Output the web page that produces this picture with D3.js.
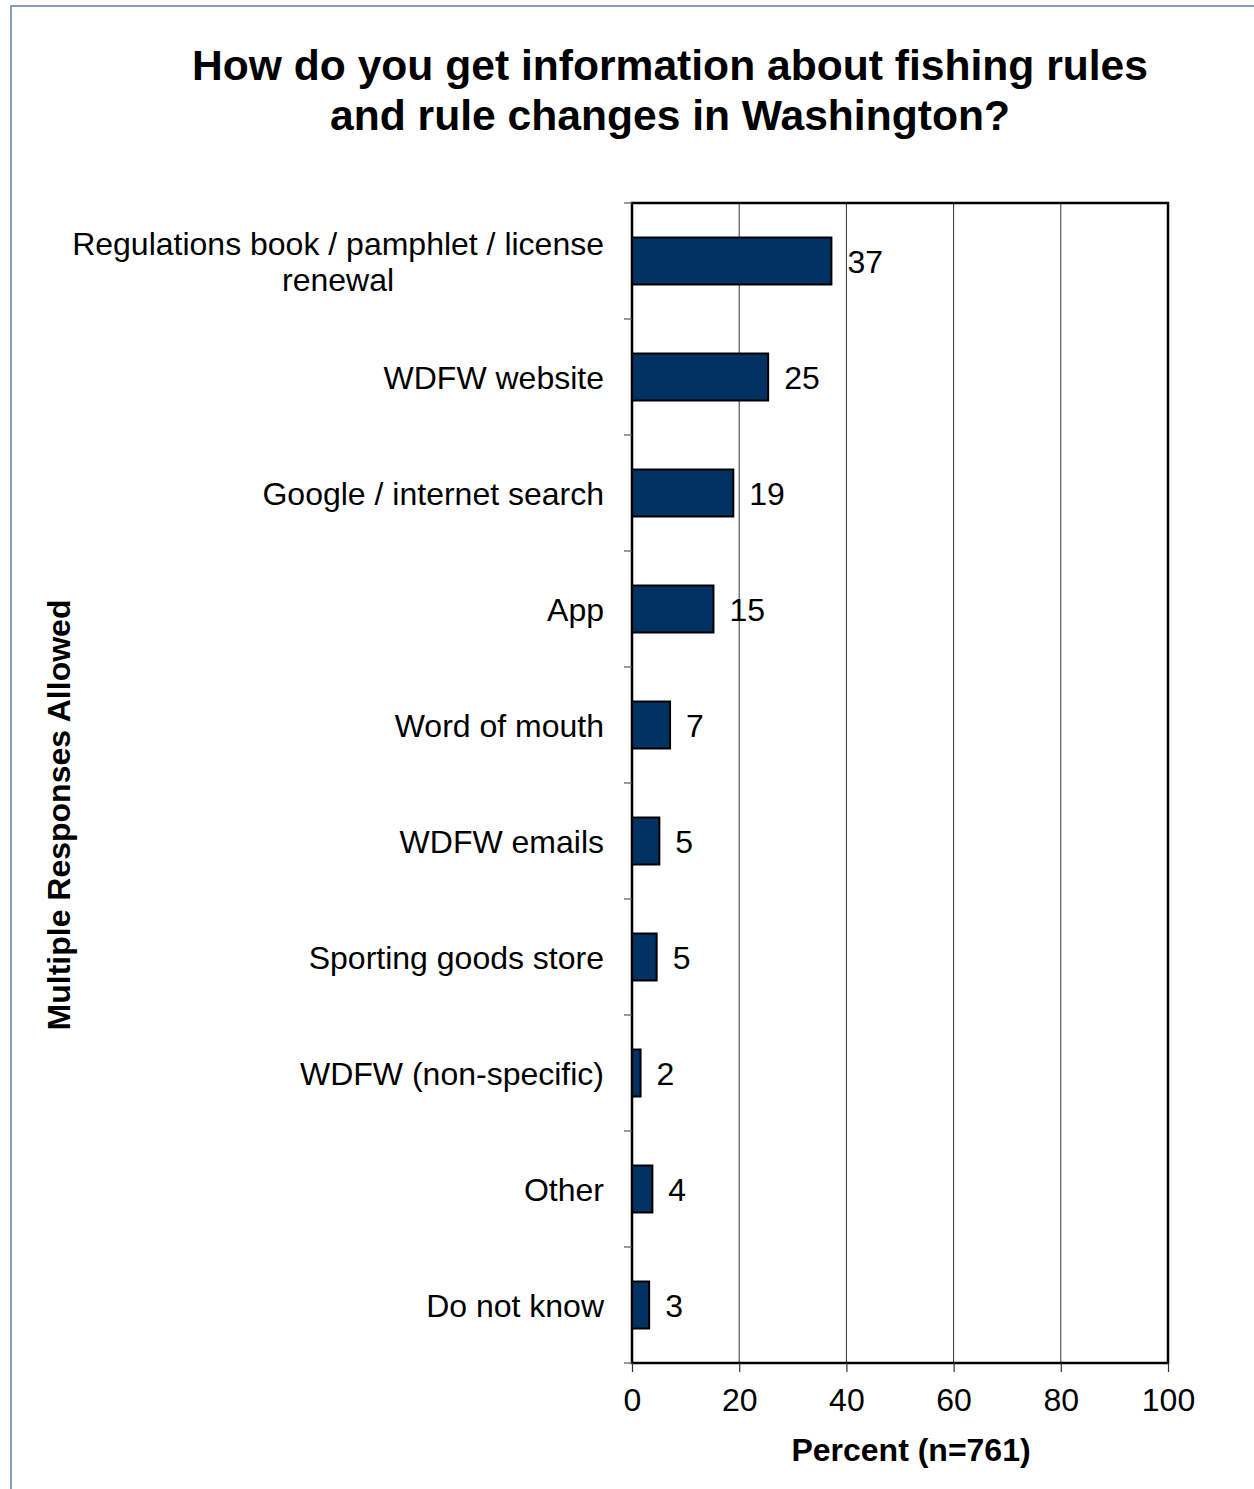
<html><head>
<meta charset="utf-8">
<title>Fishing rules information</title>
<script src="https://d3js.org/d3.v7.min.js"></script>
<style>
  body { margin: 0; background: #fff; }
  svg text { font-family: Arial, "Liberation Sans", sans-serif; fill: #000; }
</style>
</head>
<body>
<div id="chart"></div>
<script>

// data
var categories = [
  "Regulations book / pamphlet / license renewal",
  "WDFW website",
  "Google / internet search",
  "App",
  "Word of mouth",
  "WDFW emails",
  "Sporting goods store",
  "WDFW (non-specific)",
  "Other",
  "Do not know"
];
// label lines for the one wrapped category
var labelLines = {
  "Regulations book / pamphlet / license renewal": ["Regulations book / pamphlet / license", "renewal"]
};
var values = [37.2, 25.4, 18.9, 15.2, 7.1, 5.1, 4.6, 1.6, 3.8, 3.2];
var xTicks = [0, 20, 40, 60, 80, 100];
var titleLines = ["How do you get information about fishing rules", "and rule changes in Washington?"];

var W = 1254, H = 1489;
var plot = {left: 632, right: 1168, top: 203, bottom: 1363};

var svg = d3.select("#chart").append("svg")
  .attr("width", W)
  .attr("height", H);

// outer frame of the chart object
svg.append("rect")
  .attr("x", 11).attr("y", 6)
  .attr("width", 1300).attr("height", 1600)
  .attr("fill", "none")
  .attr("stroke", "#5b7fa8")
  .attr("stroke-width", 1.5);

var x = d3.scaleLinear().domain([0, 100]).range([plot.left, plot.right]);
var y = d3.scaleBand().domain(categories)
  .range([plot.top, plot.bottom])
  .paddingInner(0.595)
  .paddingOuter(0.2975);

// title
svg.append("text")
  .attr("x", 670).attr("y", 80)
  .attr("text-anchor", "middle")
  .style("font-size", "42.6px").style("font-weight", "bold")
  .selectAll("tspan").data(titleLines).enter().append("tspan")
    .attr("x", 670)
    .attr("dy", function(d, i) { return i == 0 ? 0 : 50; })
    .text(function(d) { return d; });

// vertical grid lines
svg.selectAll(".grid").data(xTicks.slice(1, -1)).enter().append("line")
  .attr("x1", function(d) { return x(d); })
  .attr("x2", function(d) { return x(d); })
  .attr("y1", plot.top).attr("y2", plot.bottom)
  .attr("stroke", "#333").attr("stroke-width", 1);

// bars
svg.selectAll(".bar").data(values).enter().append("rect")
  .attr("x", x(0))
  .attr("y", function(d, i) { return y(categories[i]); })
  .attr("width", function(d) { return x(d) - x(0); })
  .attr("height", y.bandwidth())
  .attr("fill", "#023262")
  .attr("stroke", "#000")
  .attr("stroke-width", 2);

// value labels
svg.selectAll(".val").data(values).enter().append("text")
  .attr("x", function(d) { return x(d) + 16; })
  .attr("y", function(d, i) { return y(categories[i]) + y.bandwidth() / 2; })
  .attr("dy", "0.36em")
  .style("font-size", "32px")
  .text(function(d) { return Math.round(d); });

// plot frame
svg.append("rect")
  .attr("x", plot.left).attr("y", plot.top)
  .attr("width", plot.right - plot.left)
  .attr("height", plot.bottom - plot.top)
  .attr("fill", "none")
  .attr("stroke", "#000")
  .attr("stroke-width", 2.5);

// category boundary ticks on the left axis
var step = y.step();
var bounds = categories.map(function(c) { return y(c) - step * y.paddingInner() / 2; });
bounds.push(bounds[bounds.length - 1] + step);
svg.selectAll(".ytick").data(bounds).enter().append("line")
  .attr("x1", plot.left - 8).attr("x2", plot.left)
  .attr("y1", function(d) { return d; }).attr("y2", function(d) { return d; })
  .attr("stroke", "#555").attr("stroke-width", 1.2);

// category labels
var labelRight = plot.left - 28;
categories.forEach(function(c) {
  var lines = labelLines[c] || [c];
  var cy = y(c) + y.bandwidth() / 2;
  var g = svg.append("text")
    .style("font-size", "32px")
    .attr("text-anchor", "middle");
  var spans = g.selectAll("tspan").data(lines).enter().append("tspan")
    .text(function(d) { return d; });
  var maxW = 0;
  spans.each(function() { maxW = Math.max(maxW, this.getComputedTextLength()); });
  var cx = labelRight - maxW / 2;
  var lh = 36;
  var y0 = cy - (lines.length - 1) * lh / 2;
  spans.attr("x", cx)
    .attr("y", function(d, i) { return y0 + i * lh; })
    .attr("dy", "0.36em");
});

// bottom axis
var xAxis = svg.append("g")
  .attr("transform", "translate(0," + plot.bottom + ")")
  .call(d3.axisBottom(x).tickValues(xTicks).tickSize(9).tickPadding(16));
xAxis.select(".domain").remove();
xAxis.selectAll("line").attr("stroke", "#333").attr("stroke-width", 1.2);
xAxis.selectAll("text")
  .style("font-size", "32px")
  .style("font-family", "Arial, 'Liberation Sans', sans-serif")
  .attr("fill", "#000");

// axis titles
svg.append("text")
  .attr("x", 911).attr("y", 1461)
  .attr("text-anchor", "middle")
  .style("font-size", "32px").style("font-weight", "bold")
  .text("Percent (n=761)");

svg.append("text")
  .attr("transform", "translate(70,815) rotate(-90)")
  .attr("text-anchor", "middle")
  .style("font-size", "32px").style("font-weight", "bold")
  .text("Multiple Responses Allowed");

</script>
</body></html>
